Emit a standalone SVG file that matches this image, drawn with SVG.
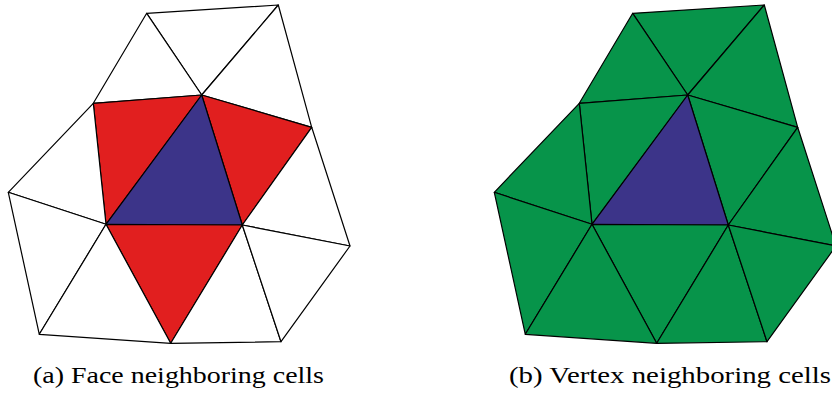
<svg xmlns="http://www.w3.org/2000/svg" width="832" height="394" viewBox="0 0 832 394">
<style>
.t{stroke:#000;stroke-width:1.2;stroke-linejoin:round}
.w{fill:#fff}
.r{fill:#E11F1F}
.b{fill:#3C3489}
.g{fill:#07944A}
.cap{font-family:"Liberation Serif","DejaVu Serif",serif;font-size:23px;fill:#000}
</style>
<rect width="832" height="394" fill="#fff"/>
<g id="face-neighbors">
<g id="a-t1"><polygon class="t w" points="146.7,13.3 278.3,5 201.7,95"/></g>
<g id="a-t2"><polygon class="t w" points="146.7,13.3 93.3,103.3 201.7,95"/></g>
<g id="a-t3"><polygon class="t w" points="278.3,5 311.7,127.3 201.7,95"/></g>
<g id="a-t4"><polygon class="t r" points="93.3,103.3 201.7,95 106,224.3"/></g>
<g id="a-t5"><polygon class="t r" points="201.7,95 311.7,127.3 242.3,225"/></g>
<g id="a-center"><polygon class="t b" points="201.7,95 106,224.3 242.3,225"/></g>
<g id="a-t7"><polygon class="t w" points="93.3,103.3 8.3,192.3 106,224.3"/></g>
<g id="a-t8"><polygon class="t w" points="311.7,127.3 350,246 242.3,225"/></g>
<g id="a-t9"><polygon class="t w" points="8.3,192.3 39.3,334.3 106,224.3"/></g>
<g id="a-t10"><polygon class="t r" points="106,224.3 242.3,225 170.7,343.3"/></g>
<g id="a-t11"><polygon class="t w" points="106,224.3 39.3,334.3 170.7,343.3"/></g>
<g id="a-t12"><polygon class="t w" points="242.3,225 170.7,343.3 281,341.7"/></g>
<g id="a-t13"><polygon class="t w" points="242.3,225 350,246 281,341.7"/></g>
</g>
<g id="vertex-neighbors" transform="translate(486,0)">
<g id="b-t1"><polygon class="t g" points="146.7,13.3 278.3,5 201.7,95"/></g>
<g id="b-t2"><polygon class="t g" points="146.7,13.3 93.3,103.3 201.7,95"/></g>
<g id="b-t3"><polygon class="t g" points="278.3,5 311.7,127.3 201.7,95"/></g>
<g id="b-t4"><polygon class="t g" points="93.3,103.3 201.7,95 106,224.3"/></g>
<g id="b-t5"><polygon class="t g" points="201.7,95 311.7,127.3 242.3,225"/></g>
<g id="b-center"><polygon class="t b" points="201.7,95 106,224.3 242.3,225"/></g>
<g id="b-t7"><polygon class="t g" points="93.3,103.3 8.3,192.3 106,224.3"/></g>
<g id="b-t8"><polygon class="t g" points="311.7,127.3 350,246 242.3,225"/></g>
<g id="b-t9"><polygon class="t g" points="8.3,192.3 39.3,334.3 106,224.3"/></g>
<g id="b-t10"><polygon class="t g" points="106,224.3 242.3,225 170.7,343.3"/></g>
<g id="b-t11"><polygon class="t g" points="106,224.3 39.3,334.3 170.7,343.3"/></g>
<g id="b-t12"><polygon class="t g" points="242.3,225 170.7,343.3 281,341.7"/></g>
<g id="b-t13"><polygon class="t g" points="242.3,225 350,246 281,341.7"/></g>
</g>
<text class="cap" x="33" y="383" textLength="291" lengthAdjust="spacingAndGlyphs">(a) Face neighboring cells</text>
<text class="cap" x="509" y="383" textLength="322" lengthAdjust="spacingAndGlyphs">(b) Vertex neighboring cells</text>
</svg>
